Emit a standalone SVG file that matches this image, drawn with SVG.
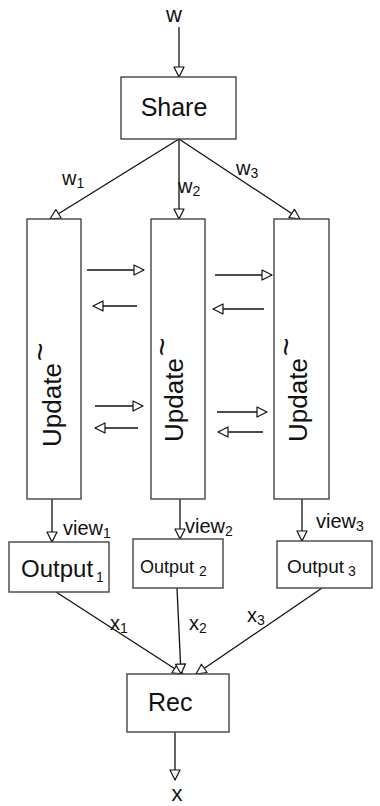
<svg xmlns="http://www.w3.org/2000/svg" width="380" height="806" viewBox="0 0 380 806">
  <defs>
    <marker id="open" viewBox="0 0 12 12" refX="11" refY="6" markerWidth="12" markerHeight="12" markerUnits="userSpaceOnUse" orient="auto">
      <path d="M1,1 L11,6 L1,11 Z" fill="#fff" stroke="#111" stroke-width="1.2" stroke-linejoin="round"/>
    </marker>
    <style>
      .box { fill: #fff; stroke: #444; stroke-width: 1.4; }
      .edge { fill: none; stroke: #111; stroke-width: 1.3; marker-end: url(#open); }
      .lbl { font-family: "Liberation Sans", "DejaVu Sans", sans-serif; fill: #111; }
      .upd { font-size: 26px; }
      .big { font-size: 25px; }
      .mid { font-size: 22px; }
      .sm { font-size: 20px; }
      .sub { font-size: 14px; }
      .tl { font-size: 32px; }
    </style>
  </defs>
  <rect width="380" height="806" fill="#fff"/>

  <g id="connectors">
    <!-- input weights into Share -->
    <line class="edge" x1="179" y1="27" x2="179" y2="77"/>
    <!-- Share fans out to the three Update columns -->
    <line class="edge" x1="179" y1="139" x2="50" y2="219"/>
    <line class="edge" x1="179" y1="139" x2="179" y2="219"/>
    <line class="edge" x1="179" y1="139" x2="300" y2="219"/>
    <!-- exchanges between Update columns -->
    <line class="edge" x1="87" y1="270" x2="144" y2="270"/>
    <line class="edge" x1="137" y1="306" x2="93" y2="306"/>
    <line class="edge" x1="215" y1="275" x2="272" y2="275"/>
    <line class="edge" x1="264" y1="309" x2="213" y2="309"/>
    <line class="edge" x1="95" y1="406" x2="143" y2="406"/>
    <line class="edge" x1="138" y1="428" x2="95" y2="428"/>
    <line class="edge" x1="217" y1="412" x2="267" y2="412"/>
    <line class="edge" x1="263" y1="432" x2="218" y2="432"/>
    <!-- Update columns to outputs -->
    <line class="edge" x1="52" y1="499" x2="52" y2="542"/>
    <line class="edge" x1="180" y1="499" x2="180" y2="539"/>
    <line class="edge" x1="302" y1="499" x2="302" y2="541"/>
    <!-- outputs to Rec -->
    <line class="edge" x1="56" y1="592" x2="183" y2="674"/>
    <line class="edge" x1="177" y1="588" x2="181" y2="674"/>
    <line class="edge" x1="322" y1="588" x2="196" y2="674"/>
    <!-- Rec result -->
    <line class="edge" x1="175" y1="732" x2="175" y2="780"/>
  </g>

  <g id="labels">
    <text class="lbl mid" x="174" y="22" text-anchor="middle">w</text>
    <text class="lbl sm" x="62" y="185">w<tspan class="sub" dy="3">1</tspan></text>
    <text class="lbl sm" x="178" y="193">w<tspan class="sub" dy="3">2</tspan></text>
    <text class="lbl sm" x="236" y="175">w<tspan class="sub" dy="3">3</tspan></text>
    <text class="lbl sm" x="63" y="535">view<tspan class="sub" dy="3">1</tspan></text>
    <text class="lbl sm" x="185" y="533">view<tspan class="sub" dy="3">2</tspan></text>
    <text class="lbl sm" x="316" y="528">view<tspan class="sub" dy="3">3</tspan></text>
    <text class="lbl sm" x="110" y="630">x<tspan class="sub" dy="3">1</tspan></text>
    <text class="lbl sm" x="189" y="630">x<tspan class="sub" dy="3">2</tspan></text>
    <text class="lbl sm" x="247" y="622">x<tspan class="sub" dy="3">3</tspan></text>
    <text class="lbl mid" x="177" y="801" text-anchor="middle">x</text>
  </g>

  <g id="share">
    <rect class="box" x="121" y="77" width="115" height="62"/>
    <text class="lbl big" x="174" y="116" text-anchor="middle">Share</text>
  </g>

  <g id="update1">
    <rect class="box" x="27" y="219" width="54" height="280"/>
    <text class="lbl upd" transform="translate(61,447) rotate(-90)">Update<tspan class="tl" dx="2" dy="-10">~</tspan></text>
  </g>
  <g id="update2">
    <rect class="box" x="151" y="219" width="54" height="280"/>
    <text class="lbl upd" transform="translate(183,442) rotate(-90)">Update<tspan class="tl" dx="2" dy="-10">~</tspan></text>
  </g>
  <g id="update3">
    <rect class="box" x="274" y="219" width="55" height="280"/>
    <text class="lbl upd" transform="translate(307,442) rotate(-90)">Update<tspan class="tl" dx="2" dy="-10">~</tspan></text>
  </g>

  <g id="output1">
    <rect class="box" x="9" y="542" width="100" height="50"/>
    <text class="lbl" x="21" y="577" font-size="24">Output<tspan class="sub" dx="3" dy="5">1</tspan></text>
  </g>
  <g id="output2">
    <rect class="box" x="133" y="539" width="90" height="49"/>
    <text class="lbl" x="140" y="573" font-size="18">Output<tspan class="sub" dx="5" dy="3">2</tspan></text>
  </g>
  <g id="output3">
    <rect class="box" x="277" y="541" width="95" height="47"/>
    <text class="lbl" x="287" y="573" font-size="19">Output<tspan class="sub" dx="4" dy="3">3</tspan></text>
  </g>

  <g id="rec">
    <rect class="box" x="127" y="674" width="102" height="58"/>
    <text class="lbl" x="148" y="711" font-size="25">Rec</text>
  </g>
</svg>
